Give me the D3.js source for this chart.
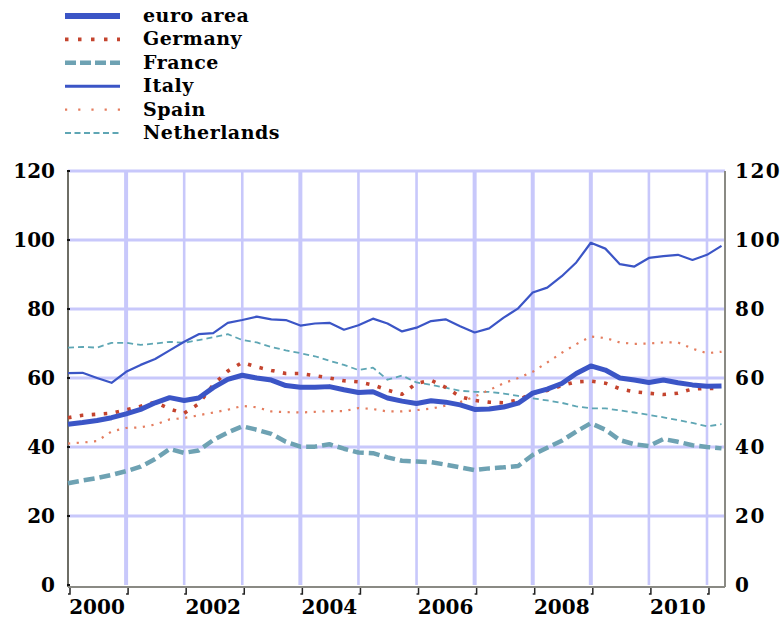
<!DOCTYPE html>
<html>
<head>
<meta charset="utf-8">
<script src="https://cdn.jsdelivr.net/npm/d3@7"></script>
<style>
  html, body { margin: 0; padding: 0; background: #fff; }
  svg { display: block; }
  text { font-family: "DejaVu Serif", serif; font-weight: bold; fill: #000; }
</style>
</head>
<body>
<svg id="chart" width="783" height="620"></svg>
<script>
// ---- data ----
const quarters = [
  "2000Q1","2000Q2","2000Q3","2000Q4","2001Q1","2001Q2","2001Q3","2001Q4",
  "2002Q1","2002Q2","2002Q3","2002Q4","2003Q1","2003Q2","2003Q3","2003Q4",
  "2004Q1","2004Q2","2004Q3","2004Q4","2005Q1","2005Q2","2005Q3","2005Q4",
  "2006Q1","2006Q2","2006Q3","2006Q4","2007Q1","2007Q2","2007Q3","2007Q4",
  "2008Q1","2008Q2","2008Q3","2008Q4","2009Q1","2009Q2","2009Q3","2009Q4",
  "2010Q1","2010Q2","2010Q3","2010Q4","2011Q1","2011Q2"
];
const euroArea = [46.6,47.1,47.7,48.5,49.6,50.9,52.8,54.3,53.5,54.2,57.2,59.6,60.8,60.0,59.4,57.8,
  57.3,57.3,57.5,56.6,55.8,56.0,54.2,53.3,52.6,53.4,53.0,52.2,50.9,51.0,51.6,52.7,
  55.6,56.8,58.4,61.3,63.5,62.3,60.0,59.4,58.7,59.4,58.6,58.0,57.6,57.7];
const germany = [48.5,49.2,49.5,49.8,50.8,51.8,53.0,51.0,49.8,52.5,58.0,62.0,64.5,63.2,62.2,61.3,
  61.3,60.7,60.0,59.2,58.9,58.0,56.5,55.3,58.5,59.3,57.3,54.6,53.5,53.0,52.8,53.6,
  55.6,56.4,57.8,58.9,59.1,58.5,56.9,56.0,55.6,55.2,55.6,56.8,57.0,57.0];
const france = [29.5,30.3,31.0,31.9,33.0,34.3,36.5,39.4,38.3,39.0,42.0,44.2,46.0,45.0,43.8,41.5,
  40.1,40.1,40.8,39.5,38.4,38.2,37.0,36.0,35.8,35.6,34.9,34.1,33.3,33.8,34.1,34.5,
  37.7,39.8,41.8,44.5,46.9,45.0,42.0,40.8,40.3,42.3,41.5,40.5,40.0,39.6];
const italy = [61.4,61.5,60.0,58.6,61.8,63.8,65.5,68.0,70.5,72.7,73.0,76.0,76.8,77.8,77.0,76.8,
  75.2,75.8,76.0,74.0,75.3,77.2,75.8,73.5,74.6,76.5,77.0,75.0,73.2,74.4,77.5,80.2,
  84.8,86.2,89.5,93.5,99.2,97.5,93.0,92.3,94.8,95.3,95.7,94.2,95.7,98.3];
const spain = [41.0,41.3,41.7,44.5,45.5,45.7,46.5,48.0,48.4,49.2,50.0,50.8,51.9,51.5,50.3,50.1,
  50.0,50.2,50.4,50.4,51.3,51.0,50.3,50.3,50.7,51.1,52.0,53.0,54.6,56.5,58.5,60.0,
  61.8,64.5,67.3,69.8,72.0,71.6,70.3,69.9,70.0,70.3,70.3,68.5,67.2,67.6];
const netherlands = [68.8,69.0,68.8,70.2,70.2,69.6,70.0,70.5,70.2,71.0,71.8,72.7,71.0,70.3,69.0,68.0,
  67.2,66.3,65.0,63.8,62.3,63.0,59.5,60.7,58.7,58.0,57.2,56.3,56.0,56.0,55.5,54.8,
  54.1,53.5,52.8,51.8,51.2,51.2,50.6,50.0,49.3,48.6,47.8,47.0,46.0,46.6];
const seriesNames = ["euro area","Germany","France","Italy","Spain","Netherlands"];
const yTicks = [0,20,40,60,80,100,120];
const yearTicks = [2000,2001,2002,2003,2004,2005,2006,2007,2008,2009,2010,2011];
const yearLabels = [2000,2002,2004,2006,2008,2010];

// ---- styles ----
const styles = {
  "euro area":   {color:"#3b55c6", width:5,   dash:null,     lw:6},
  "Germany":     {color:"#c4442e", width:3.6, dash:"3.5 8.5", lw:3.6, ldash:"3.5 9.5"},
  "France":      {color:"#6ea2b3", width:4.5, dash:"11 5",    lw:4.5, ldash:"11 4"},
  "Italy":       {color:"#3b55c6", width:2.2, dash:null,     lw:3},
  "Spain":       {color:"#e47d5f", width:2.2, dash:"2.2 6.5", lw:2.2, ldash:"2.2 11"},
  "Netherlands": {color:"#5ea6b4", width:1.8, dash:"6 4",     lw:2,   ldash:"6 3.5"}
};
const dataBy = {"euro area":euroArea,"Germany":germany,"France":france,"Italy":italy,"Spain":spain,"Netherlands":netherlands};

const qToYear = q => +q.slice(0,4) + (+q.slice(5)-1)/4;

const svg = d3.select("#chart");
const x = d3.scaleLinear().domain([2000, 2011.31]).range([68, 725]);
const y = d3.scaleLinear().domain([0,120]).range([585,171]);

const gridColor = "#c8c8fb";
// horizontal gridlines
svg.append("g").selectAll("line").data(yTicks.filter(d=>d>0)).join("line")
  .attr("x1", x(2000)).attr("x2", x.range()[1])
  .attr("y1", d=>y(d)).attr("y2", d=>y(d))
  .attr("stroke", gridColor).attr("stroke-width", 3);
// vertical gridlines
svg.append("g").selectAll("line").data(yearTicks.slice(1)).join("line")
  .attr("x1", d=>x(d)).attr("x2", d=>x(d))
  .attr("y1", y(120)).attr("y2", y(0))
  .attr("stroke", gridColor).attr("stroke-width", (d,i)=> [0,3,6,7,8].includes(i) ? 4 : 2.6);

// axes frame
svg.append("line").attr("x1",x(2000)).attr("x2",x(2000)).attr("y1",y(120)).attr("y2",y(0)+2)
  .attr("stroke","#6e6e66").attr("stroke-width",2);
svg.append("line").attr("x1",x.range()[1]).attr("x2",x.range()[1]).attr("y1",y(120)).attr("y2",y(0)+2)
  .attr("stroke","#8a8a84").attr("stroke-width",2);
svg.append("line").attr("x1",x(2000)).attr("x2",x.range()[1]).attr("y1",y(0)+2).attr("y2",y(0)+2)
  .attr("stroke","#8a8a84").attr("stroke-width",2);

// left axis tick dots
svg.append("g").selectAll("rect").data(yTicks).join("rect")
  .attr("x", x(2000)-1).attr("y", d=>y(d)-1).attr("width",3).attr("height",2).attr("fill","#111");

// bottom ticks
svg.append("g").selectAll("path").data(yearTicks).join("path")
  .attr("d", d=>`M${x(d)+2},${y(0)+3}v6h-2`)
  .attr("fill","none").attr("stroke","#222").attr("stroke-width",1.5);

// y labels
svg.append("g").selectAll("text").data(yTicks).join("text")
  .attr("x", 55).attr("y", d=>y(d)).attr("dy","0.36em").attr("text-anchor","end")
  .attr("font-size",20).text(d=>d);
svg.append("g").selectAll("text").data(yTicks).join("text")
  .attr("x", 735).attr("y", d=>y(d)).attr("dy","0.36em").attr("text-anchor","start")
  .attr("font-size",20).attr("letter-spacing",1.5).text(d=>d);

// x labels
svg.append("g").selectAll("text").data(yearLabels).join("text")
  .attr("x", d=>x(d+0.5)).attr("y", 614).attr("text-anchor","middle")
  .attr("font-size",20).text(d=>d);

// lines (draw order: back to front)
const line = d3.line().x((d,i)=>x(qToYear(quarters[i]))).y(d=>y(d)).curve(d3.curveLinear);
const drawOrder = ["Netherlands","Spain","France","Italy","Germany","euro area"];
drawOrder.forEach(name=>{
  const s = styles[name];
  svg.append("path").datum(dataBy[name]).attr("d", line)
    .attr("fill","none").attr("stroke", s.color).attr("stroke-width", s.width)
    .attr("stroke-dasharray", s.dash).attr("stroke-linejoin","round");
});

// legend
const lg = svg.append("g");
seriesNames.forEach((name,i)=>{
  const s = styles[name];
  const cy = 16 + 23.4*i;
  lg.append("line").attr("x1",65).attr("x2",120).attr("y1",cy).attr("y2",cy)
    .attr("stroke", s.color).attr("stroke-width", s.lw).attr("stroke-dasharray", s.ldash || null);
  lg.append("text").attr("x",143).attr("y",cy+6).attr("font-size",19).attr("letter-spacing",0.5).text(name);
});
</script>
</body>
</html>
